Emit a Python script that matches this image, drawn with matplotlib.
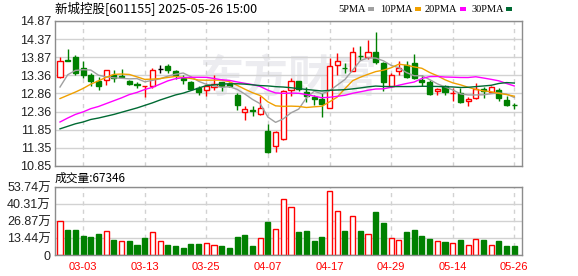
import numpy as np
import pandas as pd
import matplotlib
matplotlib.use("Agg")
import matplotlib.pyplot as plt
from matplotlib.patches import Rectangle

plt.rcParams['font.family'] = ['Liberation Sans', 'Noto Sans CJK SC']

# 日K数据 (02-26 ~ 05-26)
opens = [13.33, 13.78, 13.88, 13.58, 13.38, 13.21, 13.24, 13.36, 13.34, 13.21,
         13.11, 13.06, 13.06, 13.54, 13.63, 13.49, 13.30, 13.18, 13.01, 12.95,
         13.04, 13.17, 13.12, 12.83, 12.35, 12.39, 12.28, 11.83, 11.40, 11.59,
         12.97, 13.21, 12.90, 12.75, 12.72, 12.46, 13.66, 13.57, 13.49, 13.91,
         13.86, 14.01, 13.70, 13.06, 13.49, 13.66, 13.70, 13.24, 13.18, 12.92,
         13.08, 12.87, 12.87, 12.66, 12.74, 12.99, 12.90, 12.97, 12.69, 12.54]
highs = [13.87, 14.09, 13.93, 13.77, 13.43, 13.33, 13.52, 13.52, 13.55, 13.24,
         13.19, 13.08, 13.58, 13.66, 13.67, 13.52, 13.38, 13.21, 13.06, 13.15,
         13.38, 13.19, 13.18, 12.87, 12.52, 12.52, 12.78, 12.02, 11.83, 12.97,
         13.29, 13.21, 13.03, 12.83, 12.87, 13.84, 13.98, 13.70, 14.16, 14.19,
         14.35, 14.56, 13.73, 13.44, 13.77, 13.77, 13.96, 13.36, 13.24, 13.01,
         13.10, 13.01, 13.01, 12.75, 13.15, 13.03, 13.08, 13.01, 12.78, 12.60]
lows = [13.30, 13.76, 13.38, 13.29, 13.06, 12.95, 13.10, 13.18, 13.29, 13.10,
        13.01, 12.76, 13.01, 13.44, 13.43, 13.27, 13.12, 12.95, 12.83, 12.78,
        12.97, 12.94, 13.03, 12.41, 12.12, 12.25, 12.26, 11.22, 11.23, 11.58,
        12.78, 12.92, 12.63, 12.55, 12.20, 12.45, 13.36, 13.43, 13.47, 13.79,
        13.82, 13.67, 12.92, 13.03, 13.36, 13.29, 13.27, 13.06, 12.83, 12.83,
        12.83, 12.66, 12.60, 12.52, 12.72, 12.74, 12.87, 12.64, 12.50, 12.44]
closes = [13.77, 13.76, 13.43, 13.38, 13.21, 13.06, 13.52, 13.30, 13.32, 13.13,
          13.10, 13.07, 13.50, 13.54, 13.50, 13.36, 13.24, 12.99, 12.90, 13.08,
          13.13, 13.06, 13.08, 12.53, 12.43, 12.38, 12.46, 11.23, 11.80, 12.92,
          13.21, 12.98, 12.78, 12.72, 12.58, 13.61, 13.77, 13.56, 14.01, 13.90,
          14.01, 13.73, 13.18, 13.38, 13.58, 13.33, 13.29, 13.18, 12.85, 12.99,
          12.90, 12.88, 12.63, 12.70, 12.99, 12.92, 13.03, 12.74, 12.53, 12.53]

# 成交量 (万手)
volumes = [26.5, 19.7, 19.7, 15.3, 14.2, 16.6, 18.7, 11.9, 11.3, 10.8,
           7.9, 13.4, 17.9, 10.8, 7.9, 7.1, 5.5, 8.7, 8.7, 9.2,
           7.9, 7.1, 5.5, 14.5, 15.8, 7.1, 13.2, 26.1, 20.3, 44.2,
           37.7, 18.2, 19.0, 11.1, 14.2, 50.6, 34.5, 19.0, 30.6, 19.0,
           16.4, 34.0, 25.3, 13.4, 11.9, 18.2, 19.8, 15.0, 12.6, 10.8,
           10.3, 9.5, 11.9, 7.9, 12.4, 11.9, 7.9, 11.1, 7.1, 6.7346]
vol_up = "rgggggrgrg" "ggrrgggggr" "rgggggrgrr" "rggggrrgrg" "rggrrggggr" "grgrrgrggg"

# 均线在窗口开头的值 (窗口前的数据不在图中)
ma5_head = [13.04, 13.38, 13.50, 13.52]
ma10_head = [12.72, 12.81, 12.90, 13.00, 13.12, 13.21, 13.31, 13.39, 13.40]
ma20_head = [12.07, 12.18, 12.28, 12.35, 12.44, 12.50, 12.58, 12.66, 12.74, 12.83,
             12.89, 12.97, 13.03, 13.12, 13.21, 13.27, 13.30, 13.31, 13.31]
ma30_head = [11.88, 11.95, 12.02, 12.07, 12.14, 12.18, 12.23, 12.28, 12.34, 12.40,
             12.46, 12.53, 12.60, 12.68, 12.75, 12.82, 12.87, 12.94, 13.01, 13.08,
             13.10, 13.12, 13.13, 13.13, 13.12, 13.10, 13.08, 13.07, 13.05]

date_labels = ["03-03", "03-13", "03-25", "04-07", "04-17", "04-29", "05-14", "05-26"]
date_pos = [3, 11, 19, 27, 35, 43, 51, 59]

price_ticks = [14.87, 14.37, 13.87, 13.36, 12.86, 12.36, 11.85, 11.35, 10.85]
vol_ticks = [0, 13.44, 26.87, 40.31, 53.74]
vol_tick_labels = ["0", "13.44万", "26.87万", "40.31万", "53.74万"]

RED = '#ff0000'
GREEN = '#008000'
GRID = '#d2d2d2'
FRAME = '#8c8c8c'
ma_colors = {'5PMA': '#a0a0a0', '10PMA': '#f0a000', '20PMA': '#ff00ff', '30PMA': '#006a33'}

W, H = 578, 276
fig = plt.figure(figsize=(W / 100, H / 100), dpi=100)
ax = fig.add_axes([55 / W, 1 - 166 / H, 467 / W, 145 / H])
axv = fig.add_axes([55 / W, 1 - 255 / H, 467 / W, 68 / H])

x = np.arange(len(closes))
bw = 0.66

# K线
for i in x:
    o, h, l, c = opens[i], highs[i], lows[i], closes[i]
    if c > o:
        col, face = RED, 'white'
    elif c < o:
        col, face = GREEN, GREEN
    else:
        col, face = 'black', 'black'
    top, bot = max(o, c), min(o, c)
    ax.vlines(i, top, h, color=col, lw=1, zorder=2)
    ax.vlines(i, l, bot, color=col, lw=1, zorder=2)
    if c == o:
        ax.hlines(c, i - bw / 2, i + bw / 2, color=col, lw=1, zorder=2)
    else:
        ax.add_patch(Rectangle((i - bw / 2, bot), bw, top - bot, facecolor=face,
                               edgecolor=col, lw=1, zorder=2))

# 均线
s = pd.Series(closes)
for n, head, key in [(5, ma5_head, '5PMA'), (10, ma10_head, '10PMA'),
                     (20, ma20_head, '20PMA'), (30, ma30_head, '30PMA')]:
    ma = s.rolling(n).mean().to_numpy()
    ma[:len(head)] = head
    ax.plot(x, ma, color=ma_colors[key], lw=1, zorder=3)

ax.text(0.50, 0.60, "东方财富", transform=ax.transAxes, fontsize=32, color='#ececf0',
        weight='bold', ha='center', va='center', zorder=0, family=['Noto Sans CJK SC'])

ax.set_xlim(-0.65, 60)
ax.set_ylim(10.85, 14.87)
ax.set_yticks(price_ticks)
ax.set_yticklabels(["%.2f" % v for v in price_ticks])
ax.set_xticks(date_pos)
ax.set_xticklabels([])
ax.grid(axis='y', color=GRID, lw=1, ls='-', zorder=0)
ax.grid(axis='x', color=GRID, lw=1, ls=(0, (3, 3)), zorder=0)
ax.tick_params(length=0, labelsize=9, pad=3, colors='#222222')

# 成交量
vcols = [RED if v == 'r' else GREEN for v in vol_up]
vfaces = ['white' if v == 'r' else GREEN for v in vol_up]
axv.bar(x, volumes, width=bw, facecolor=vfaces, edgecolor=vcols, lw=1, zorder=2)
axv.set_xlim(-0.65, 60)
axv.set_ylim(0, 53.74)
axv.set_yticks(vol_ticks)
axv.set_yticklabels(vol_tick_labels)
axv.set_xticks(date_pos)
axv.set_xticklabels(date_labels, color=RED, fontsize=8)
axv.grid(axis='y', color=GRID, lw=1, ls='-', zorder=0)
axv.grid(axis='x', color=GRID, lw=1, ls=(0, (3, 3)), zorder=0)
axv.tick_params(axis='y', length=0, labelsize=9, pad=3, colors='#222222')
axv.tick_params(axis='x', length=0, pad=5)

for a in (ax, axv):
    for sp in a.spines.values():
        sp.set_color(FRAME)
        sp.set_linewidth(1)

fig.text(55 / W, 1 - 9 / H, "新城控股[601155] 2025-05-26 15:00", fontsize=9,
         va='center', ha='left', family=['Noto Sans CJK SC'])
fig.text(55 / W, 1 - 178 / H, "成交量:67346", fontsize=8.5, va='center', ha='left',
         family=['Noto Sans CJK SC'])

# 图例: 文字后面跟一个小色块
renderer = fig.canvas.get_renderer()
leg_x = [338, 380, 425, 471]
for (name, col), lx in zip(ma_colors.items(), leg_x):
    t = fig.text(lx / W, 1 - 9 / H, name, fontsize=7.5, va='center', ha='left',
                 family=['Liberation Serif'])
    ext = t.get_window_extent(renderer)
    sq_x = ext.x1 + 2
    fig.patches.append(Rectangle((sq_x / W, 1 - 11 / H), 6 / W, 4 / H, facecolor=col,
                                 edgecolor='none', transform=fig.transFigure, figure=fig))

fig.savefig('out.png', dpi=100)
